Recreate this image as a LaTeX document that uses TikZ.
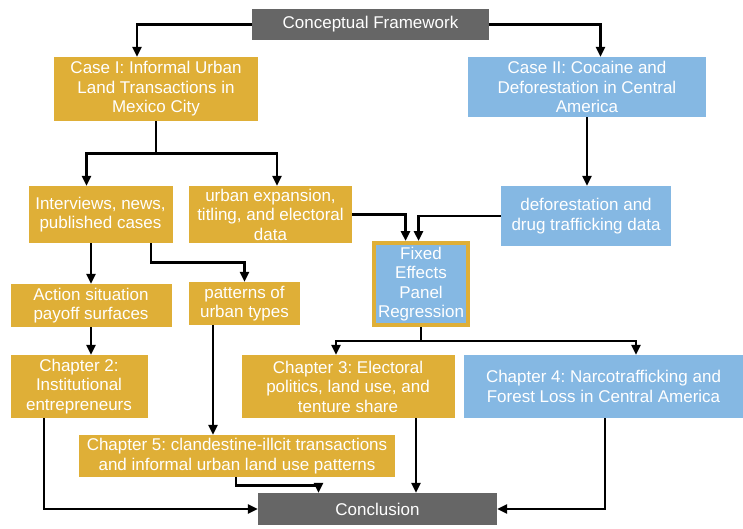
\documentclass[tikz,border=0pt]{standalone}
\usepackage{fontspec}
\setmainfont{Liberation Sans}
\usetikzlibrary{arrows.meta,calc}
\definecolor{gold}{HTML}{DFAF37}
\definecolor{sky}{HTML}{85B8E3}
\definecolor{slate}{HTML}{666666}
\frenchspacing
\begin{document}
\begin{tikzpicture}[x=1pt,y=-1pt,
  box/.style={rectangle,inner sep=2pt,text=white,align=center,
    font=\fontsize{17}{19.5}\selectfont},
  goldbox/.style={box,fill=gold},
  bluebox/.style={box,fill=sky},
  greybox/.style={box,fill=slate},
  link/.style={line width=2.8pt,-{Triangle[length=10pt,width=9pt]}},
  plain/.style={line width=2.8pt}]
\useasboundingbox[fill=white] (0,0) rectangle (743,529);

% boxes
\node[greybox,minimum width=237,minimum height=31] (cf) at (370.5,24.5) {Conceptual Framework};
\node[goldbox,minimum width=204,minimum height=64] (case1) at (156,89) {Case I: Informal Urban\\Land Transactions in\\Mexico City};
\node[bluebox,minimum width=238,minimum height=60] (case2) at (587,87) {Case II: Cocaine and\\Deforestation in Central\\America};
\node[goldbox,minimum width=144,minimum height=57] (interviews) at (100.5,214.5) {Interviews, news,\\published cases};
\node[goldbox,minimum width=163,minimum height=57] (urban) at (270.5,214.5) {urban expansion,\\titling, and electoral\\data};
\node[bluebox,minimum width=170,minimum height=60] (defor) at (586,216) {deforestation and\\drug trafficking data};
\node[bluebox,draw=gold,line width=4pt,minimum width=94,minimum height=82,inner sep=0pt] (fixed) at (421,284) {Fixed\\Effects\\Panel\\Regression};
\node[goldbox,minimum width=161,minimum height=43] (action) at (91,305.5) {Action situation\\payoff surfaces};
\node[goldbox,minimum width=111,minimum height=43] (patterns) at (244.5,303.5) {patterns of\\urban types};
\node[goldbox,minimum width=137,minimum height=63] (ch2) at (79,386.5) {Chapter 2:\\Institutional\\entrepreneurs};
\node[goldbox,minimum width=213,minimum height=63] (ch3) at (348,386.5) {Chapter 3: Electoral\\politics, land use, and\\tenture share};
\node[bluebox,minimum width=280,minimum height=63] (ch4) at (603.5,386.5) {Chapter 4: Narcotrafficking and\\Forest Loss in Central America};
\node[goldbox,minimum width=316,minimum height=42] (ch5) at (237,456) {Chapter 5: clandestine-illcit transactions\\and informal urban land use patterns};
\node[greybox,minimum width=239,minimum height=32] (concl) at (377.5,509) {Conclusion};

% connectors
\draw[link] (cf.west) -| ([xshift=-19pt]case1.north);
\draw[link] (cf.east) -| ([xshift=13.5pt]case2.north);

\draw[plain] (case1.south) -- ++(0,32) coordinate (split1);
\draw[link] (split1) -| ([xshift=-14pt]interviews.north);
\draw[link] (split1) -| ([xshift=6.5pt]urban.north);

\draw[link] (case2.south) -- (case2.south |- defor.north);

\draw[link] (urban.east) -| ([xshift=-15.5pt]fixed.north);
\draw[link] (defor.west) -| ([xshift=-2.5pt]fixed.north);

\draw[link] (interviews.south -| action.north) -- (action.north);
\draw[link] ([xshift=50.5pt]interviews.south) -- ++(0,19) -| (patterns.north);

\draw[link] (action.south) -- (action.south |- ch2.north);
\draw[link] ([xshift=-31.5pt]patterns.south) -- ([xshift=-31.5pt]patterns.south |- ch5.north);

\draw[plain] (fixed.south) -- ++(0,14) coordinate (split2);
\draw[link] (split2) -| ([xshift=-12pt]ch3.north);
\draw[link] (split2) -| ([xshift=32.5pt]ch4.north);

\draw[link] ([xshift=-35pt]ch2.south) |- (concl.west);
\draw[link] ([xshift=68pt]ch3.south) -- ([xshift=68pt]ch3.south |- concl.north);
\draw[link] ([xshift=1.5pt]ch4.south) |- (concl.east);
\draw[link] ([xshift=-1pt]ch5.south) -- ++(0,8) -| ([xshift=-59pt]concl.north);
\end{tikzpicture}
\end{document}
